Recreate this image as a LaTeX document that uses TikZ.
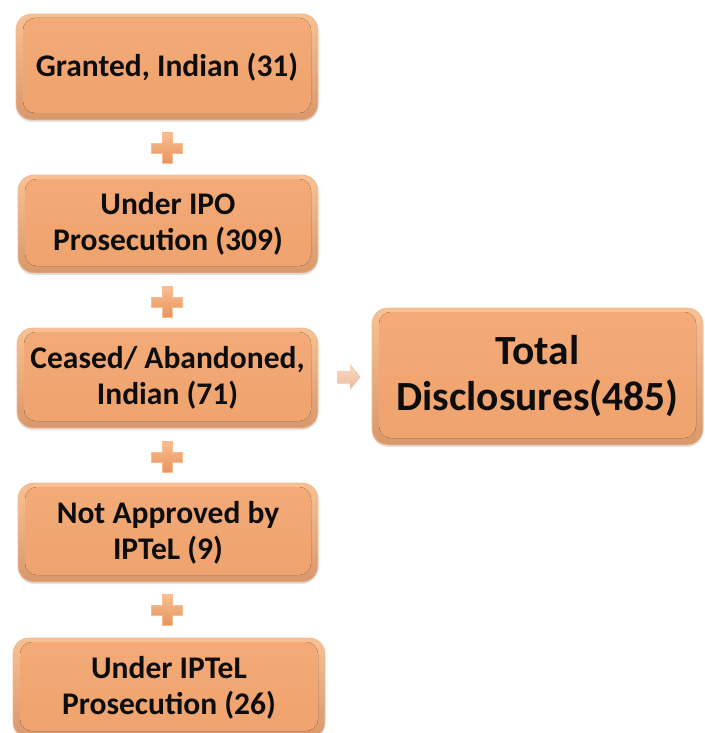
\documentclass[tikz,border=0pt]{standalone}
\usepackage{fontspec}
\setmainfont{Carlito}
\usetikzlibrary{shadows}
\definecolor{boxinnertop}{HTML}{F3AB78}
\definecolor{boxinnerbot}{HTML}{EFA26D}
\definecolor{boxtop}{HTML}{F9C193}
\definecolor{boxbot}{HTML}{D8986B}
\definecolor{boxedge}{HTML}{EDBB96}
\definecolor{txt}{HTML}{0D0D0D}
\definecolor{plustop}{HTML}{F9BE90}
\definecolor{plusbot}{HTML}{E8945E}
\definecolor{plusedge}{HTML}{F6BC92}
\definecolor{arrtop}{HTML}{F9DCC6}
\definecolor{arrbot}{HTML}{EDB898}
\tikzset{
  stepbox/.style={rounded corners=16pt, top color=boxtop, bottom color=boxbot,
    draw=boxedge, line width=0.8pt, align=center, text=txt, inner sep=0pt,
    font=\bfseries\fontsize{31.5}{36}\selectfont,
    drop shadow={shadow xshift=0pt, shadow yshift=-2pt, opacity=0.18, fill=black!60},
    path picture={\fill[top color=boxinnertop, bottom color=boxinnerbot, rounded corners=12pt]
      ([shift={(7pt,-4pt)}]path picture bounding box.north west) rectangle
      ([shift={(-7pt,7pt)}]path picture bounding box.south east);}},
  totalbox/.style={stepbox, font=\bfseries\fontsize{41.5}{46}\selectfont},
  plussign/.pic={\fill[top color=plustop, bottom color=plusbot, draw=plusedge, line width=0.6pt]
    (-5,-15.5) -- (5,-15.5) -- (5,-5) -- (15.5,-5) -- (15.5,5) -- (5,5) -- (5,15.5)
    -- (-5,15.5) -- (-5,5) -- (-15.5,5) -- (-15.5,-5) -- (-5,-5) -- cycle;},
  blockarrow/.pic={\fill[top color=arrtop, bottom color=arrbot, draw=arrtop!80!arrbot, line width=0.5pt]
    (-11.5,-6) -- (1.5,-6) -- (1.5,-12.5) -- (11.5,0) -- (1.5,12.5) -- (1.5,6) -- (-11.5,6) -- cycle;}
}
\begin{document}
\begin{tikzpicture}[x=1pt,y=-1pt]
\useasboundingbox (0,0) rectangle (704,733);
\node[stepbox, minimum width=302pt, minimum height=106pt] (b1) at (167,67) {Granted, Indian (31)};
\node[stepbox, minimum width=300pt, minimum height=98pt] (b2) at (168,224) {Under IPO\\Prosecution (309)};
\node[stepbox, minimum width=301pt, minimum height=100pt] (b3) at (167.5,378) {Ceased/ Abandoned,\\Indian (71)};
\node[stepbox, minimum width=300pt, minimum height=99pt] (b4) at (168,532.5) {Not Approved by\\IPTeL (9)};
\node[stepbox, minimum width=312pt, minimum height=100pt] (b5) at (169,688) {Under IPTeL\\Prosecution (26)};
\node[totalbox, minimum width=331pt, minimum height=137pt] (total) at (537.5,376.5) {Total\\Disclosures(485)};
\coordinate (p1) at (167,148);
\coordinate (p2) at (167,302);
\coordinate (p3) at (167,457);
\coordinate (p4) at (167,610);
\coordinate (ar) at (348.5,377);
\pic at (p1) {plussign};
\pic at (p2) {plussign};
\pic at (p3) {plussign};
\pic at (p4) {plussign};
\pic at (ar) {blockarrow};
\end{tikzpicture}
\end{document}
